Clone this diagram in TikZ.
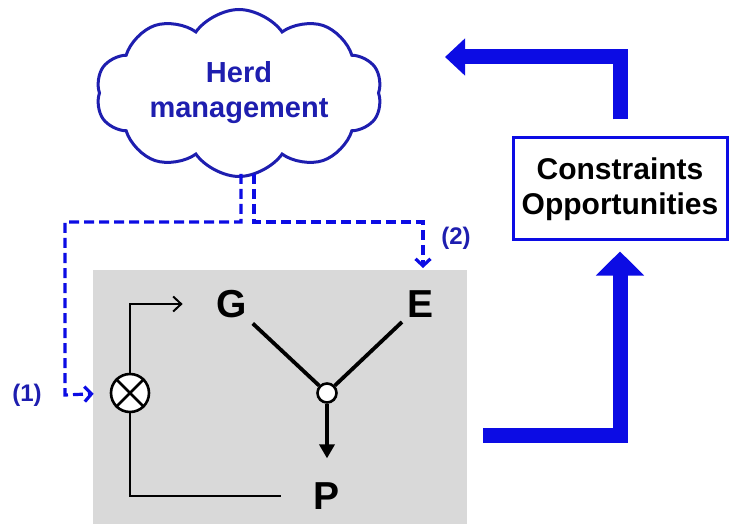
\documentclass[tikz,border=0pt]{standalone}
\usepackage{fontspec}
\setmainfont{Liberation Sans}
\usepackage{xcolor}
\usetikzlibrary{arrows.meta,positioning,shapes.symbols}
\definecolor{herdblue}{RGB}{12,12,228}
\definecolor{herddark}{RGB}{30,30,175}
\tikzset{
	herd/.style={cloud, cloud puffs=10, cloud puff arc=110, aspect=2, draw=herddark, line width=3pt, fill=white,
		minimum width=286pt, minimum height=150pt, align=center, text=herddark, font=\fontsize{29}{35}\selectfont\bfseries},
	modelbox/.style={fill=gray!30, minimum width=374pt, minimum height=254pt, inner sep=0mm},
	letter/.style={inner sep=0mm, font=\fontsize{39}{39}\selectfont\bfseries},
	junction/.style={circle, draw, line width=2.6pt, fill=white, minimum size=19pt, inner sep=0mm},
	product/.style={circle, draw, line width=2.6pt, fill=white, minimum size=38pt, inner sep=0mm},
	cobox/.style={draw=herdblue, line width=3pt, fill=white, minimum width=214pt, minimum height=102pt,
		align=center, font=\fontsize{30}{35}\selectfont\bfseries},
	tag/.style={text=herddark, font=\fontsize{24}{24}\selectfont\bfseries},
	thinlink/.style={line width=2pt, -{Straight Barb[length=8pt,width=15pt]}},
	ylink/.style={line width=3.8pt},
	dashlink/.style={draw=herdblue, line width=3.2pt, dash pattern=on 10pt off 5pt, -{Straight Barb[length=7pt,width=15pt]}},
	bigarrow/.style={draw=herdblue, line width=15pt}
}

\begin{document}
\begin{tikzpicture}[x=1pt, y=-1pt]
	\useasboundingbox (0,0) rectangle (729,524);

	% Herd management cloud and the model box are drawn.
	\node[herd] (herd-management) at (239,93) {Herd\\management};
	\node[modelbox] (model) at (280,397) {};
	\node[cobox] (constraints) at (620,189) {Constraints\\Opportunities};

	\node[letter] (g) at (232,304) {G};
	\node[letter] (e) at (421,304) {E};
	\node[letter] (p) at (327,496) {P};
	\node[junction] (junction) at (327,393) {};
	\node[product] (product) at (130,393) {};
	\draw[line width=2.6pt] (product.north west) -- (product.south east) (product.north east) -- (product.south west);

	\node[tag] (tag-1) at (27,395) {(1)};
	\node[tag] (tag-2) at (456,238) {(2)};

	\coordinate (herd-left) at (241,174);
	\coordinate (herd-right) at (254,174);
	\coordinate (e-entry) at (423,268);
	\coordinate (cloud-target) at (445,57);
	\coordinate (model-out) at (483,435);

	% G x E -> P with the feedback loop.
	\draw[ylink, shorten <=8pt] (g) -- (junction);
	\draw[ylink, shorten <=8pt] (e) -- (junction);
	\draw[ylink, shorten >=24pt, -{Triangle[length=14pt,width=15pt]}] (junction) -- (p);
	\draw[line width=2pt, shorten <=33pt] (p.west) -| (product.south);
	\draw[thinlink, shorten >=34pt] (product.north) |- (g.west);

	% Management actions (1) and (2) are drawn.
	\draw[dashlink, shorten >=16pt] (herd-left) -- ++(0,48) -| (65,395) -- (product.west);
	\draw[dashlink] (herd-right) -- ++(0,48) -| (e-entry);

	% Constraints and opportunities loop.
	\draw[bigarrow, -{Triangle[length=24pt,width=47pt]}, shorten >=10pt] (model-out) -| (constraints.south);
	\draw[bigarrow, -{Triangle[length=20pt,width=36pt]}, shorten <=17pt] (constraints.north) |- (cloud-target);
\end{tikzpicture}
\end{document}
